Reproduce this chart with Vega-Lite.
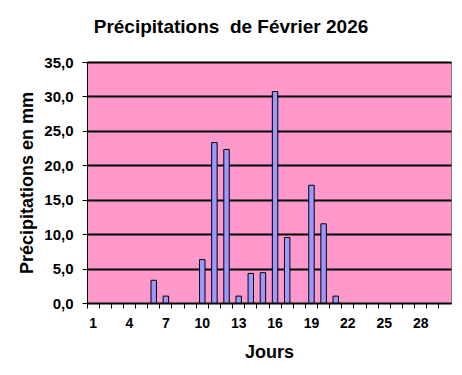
{
  "$schema": "https://vega.github.io/schema/vega-lite/v6.json",
  "width": 364,
  "height": 241,
  "autosize": {"type": "none"},
  "padding": {"left": 87, "top": 62, "right": 11, "bottom": 72},
  "background": "white",
  "title": {
    "text": "Précipitations\u00a0 de Février 2026",
    "font": "Liberation Sans",
    "fontSize": 19,
    "fontWeight": "bold",
    "color": "black",
    "anchor": "middle",
    "dx": -38,
    "offset": 18
  },
  "data": {
    "values": [
      {"jour": 6, "mm": 3.3},
      {"jour": 7, "mm": 1.0},
      {"jour": 10, "mm": 6.3},
      {"jour": 11, "mm": 23.3},
      {"jour": 12, "mm": 22.3},
      {"jour": 13, "mm": 1.0},
      {"jour": 14, "mm": 4.3},
      {"jour": 15, "mm": 4.4},
      {"jour": 16, "mm": 30.7},
      {"jour": 17, "mm": 9.5},
      {"jour": 19, "mm": 17.1},
      {"jour": 20, "mm": 11.5},
      {"jour": 21, "mm": 1.0}
    ]
  },
  "mark": {"type": "bar", "fill": "#9999FF", "stroke": "black", "strokeWidth": 1, "width": {"band": 0.45}},
  "encoding": {
    "x": {
      "field": "jour",
      "type": "ordinal",
      "scale": {"domain": [1,2,3,4,5,6,7,8,9,10,11,12,13,14,15,16,17,18,19,20,21,22,23,24,25,26,27,28,29,30], "paddingInner": 0, "paddingOuter": 0},
      "axis": {
        "title": "Jours",
        "titleFont": "Liberation Sans",
        "titleFontSize": 18,
        "titleFontWeight": "bold",
        "titleColor": "black",
        "titlePadding": 13,
        "labelFont": "Liberation Sans",
        "labelFontSize": 14,
        "labelFontWeight": "bold",
        "labelColor": "black",
        "labelAngle": 0,
        "labelPadding": 8,
        "labelExpr": "(datum.value - 1) % 3 == 0 ? datum.label : ''",
        "bandPosition": 0,
        "tickSize": 5,
        "tickColor": "black",
        "domainColor": "black",
        "grid": false
      }
    },
    "y": {
      "field": "mm",
      "type": "quantitative",
      "scale": {"domain": [0, 35], "nice": false},
      "axis": {
        "title": "Précipitations en mm",
        "titleFont": "Liberation Sans",
        "titleFontSize": 18,
        "titleFontWeight": "bold",
        "titleColor": "black",
        "titlePadding": 7,
        "values": [0, 5, 10, 15, 20, 25, 30, 35],
        "labelFont": "Liberation Sans",
        "labelFontSize": 15,
        "labelFontWeight": "bold",
        "labelColor": "black",
        "labelPadding": 9,
        "labelExpr": "replace(format(datum.value, '.1f'), '.', ',')",
        "tickSize": 5,
        "tickColor": "black",
        "domainColor": "black",
        "grid": true,
        "gridColor": "black",
        "gridWidth": 2
      }
    }
  },
  "config": {
    "view": {"fill": "#FF99CC", "stroke": "#808080", "strokeWidth": 1}
  }
}
